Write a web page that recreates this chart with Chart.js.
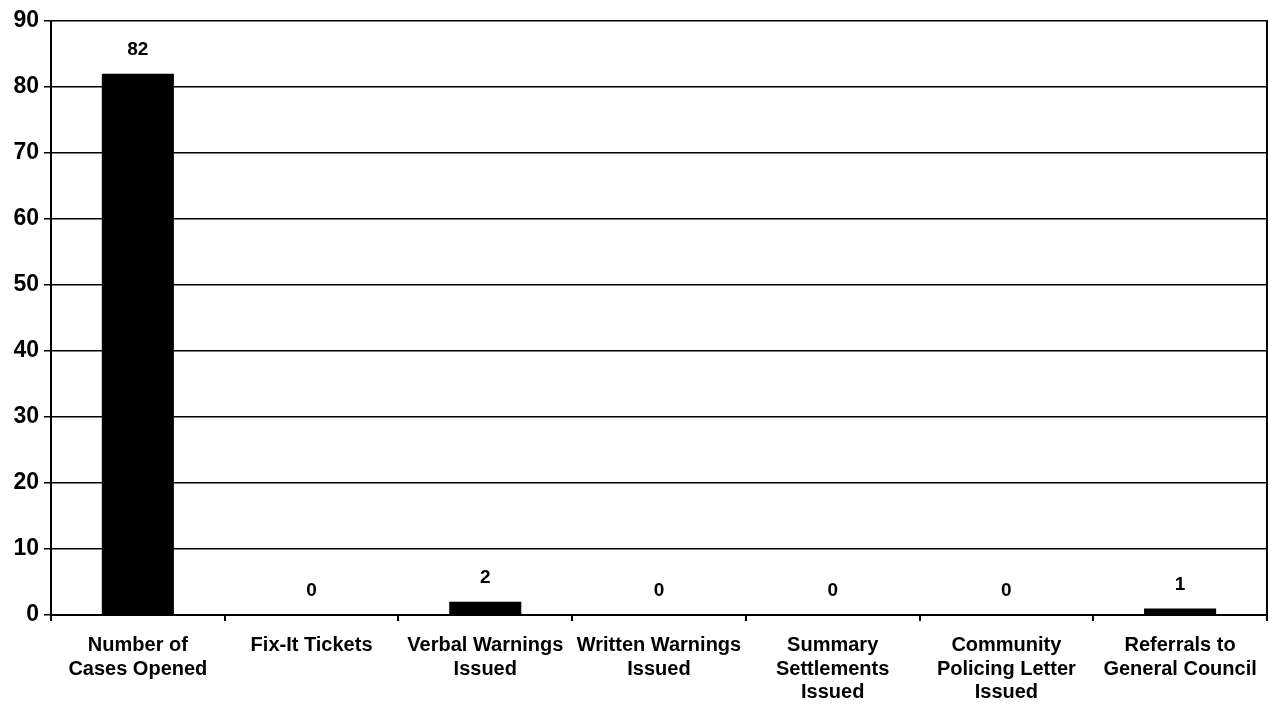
<!DOCTYPE html>
<html>
<head>
<meta charset="utf-8">
<script src="https://cdn.jsdelivr.net/npm/chart.js@4/dist/chart.umd.min.js"></script>
<style>
html,body{margin:0;padding:0;background:#fff;}
#wrap{width:1270px;height:711px;position:relative;}
</style>
</head>
<body>
<div id="wrap"><canvas id="c"></canvas></div>
<script>
const categories = [
  ["Number of", "Cases Opened"],
  ["Fix-It Tickets"],
  ["Verbal Warnings", "Issued"],
  ["Written Warnings", "Issued"],
  ["Summary", "Settlements", "Issued"],
  ["Community", "Policing Letter", "Issued"],
  ["Referrals to", "General Council"]
];
const values = [82, 0, 2, 0, 0, 0, 1];
const yTicks = [0, 10, 20, 30, 40, 50, 60, 70, 80, 90];

const FONT = "'Liberation Sans', Arial, Helvetica, sans-serif";

const extras = {
  id: 'extras',
  afterDatasetsDraw(chart) {
    const ctx = chart.ctx;
    const meta = chart.getDatasetMeta(0);
    ctx.save();
    ctx.fillStyle = '#000';
    ctx.font = 'bold 19px ' + FONT;
    ctx.textAlign = 'center';
    ctx.textBaseline = 'middle';
    meta.data.forEach((bar, i) => {
      ctx.fillText(String(values[i]), bar.x, bar.y - 24);
    });
    const a = chart.chartArea;
    ctx.strokeStyle = '#000';
    ctx.lineWidth = 2;
    ctx.beginPath();
    ctx.moveTo(a.right, a.top - 1);
    ctx.lineTo(a.right, a.bottom + 6);
    ctx.stroke();
    ctx.restore();
  }
};

new Chart(document.getElementById('c'), {
  type: 'bar',
  data: {
    labels: categories,
    datasets: [{
      data: values,
      backgroundColor: '#000',
      borderWidth: 0,
      barPercentage: 0.415,
      categoryPercentage: 1
    }]
  },
  options: {
    responsive: true,
    maintainAspectRatio: false,
    animation: false,
    layout: { padding: { top: 21, right: 3, left: 0, bottom: 0 } },
    plugins: { legend: { display: false }, tooltip: { enabled: false } },
    scales: {
      x: {
        grid: { display: true, drawOnChartArea: false, drawTicks: true, tickLength: 6, color: '#000', lineWidth: 2 },
        border: { display: true, color: '#000', width: 2 },
        ticks: {
          color: '#000',
          font: { family: FONT, size: 20, weight: 'bold', lineHeight: 1.17 },
          padding: 13,
          maxRotation: 0,
          autoSkip: false
        },
        afterFit(s) { s.height = 96; }
      },
      y: {
        min: 0,
        max: 90,
        afterBuildTicks(s) { s.ticks = yTicks.map(v => ({ value: v })); },
        grid: { color: '#000', lineWidth: 1.5, drawTicks: true, tickLength: 7 },
        border: { display: true, color: '#000', width: 2 },
        ticks: {
          color: '#000',
          font: { family: FONT, size: 23, weight: 'bold' },
          padding: 5
        },
        afterFit(s) { s.width = 51; }
      }
    }
  },
  plugins: [extras]
});
</script>
</body>
</html>
